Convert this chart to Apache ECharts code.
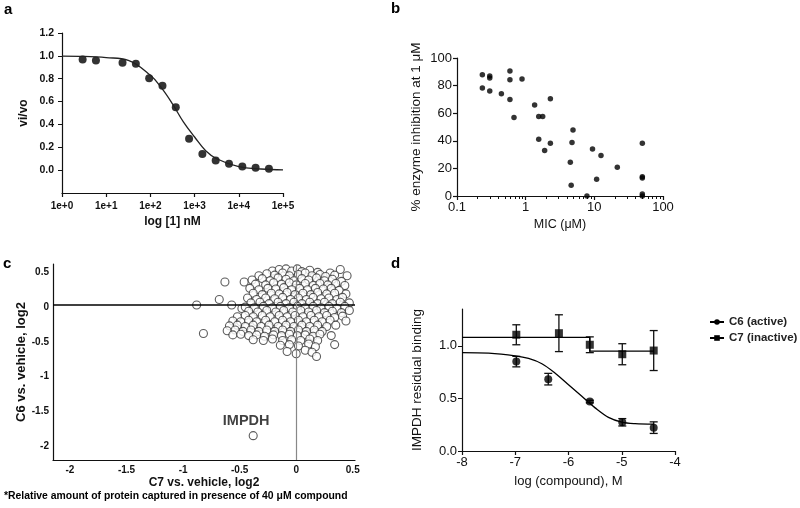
<!DOCTYPE html>
<html>
<head>
<meta charset="utf-8">
<script src="https://cdn.jsdelivr.net/npm/echarts@6/dist/echarts.min.js"></script>
<style>
  html, body { margin: 0; background: #fff; }
  #chart { width: 800px; height: 508px; }
</style>
</head>
<body>
<div id="chart"></div>
<script>
// ---------------- panel a : vi/vo vs log [1] ----------------
const aConc = [2.93, 5.86, 23.4, 46.9, 93.8, 187.5, 375, 750, 1500, 3000, 6000, 12000, 24000, 48000];
const aVivo = [0.968, 0.959, 0.939, 0.930, 0.803, 0.739, 0.551, 0.275, 0.142, 0.084, 0.055, 0.032, 0.020, 0.012];
const aFitConc = [1, 3.16, 10, 31.6, 100, 178, 316, 562, 1000, 1780, 3160, 10000, 31600, 100000];
const aFitVivo = [0.997, 0.995, 0.985, 0.96, 0.83, 0.72, 0.58, 0.42, 0.29, 0.17, 0.10, 0.03, 0.01, 0.003];

// ---------------- panel b : inhibition vs MIC ----------------
const bMic   = [0.234, 0.234, 0.30, 0.30, 0.30, 0.443, 0.59, 0.59, 0.59, 0.676, 0.885,
                1.35, 1.55, 1.77, 1.55, 1.89, 2.29, 2.29, 4.47, 4.73, 4.89, 4.6,
                7.8, 9.4, 10.8, 12.5, 21.6, 50, 50, 50, 50, 50];
const bInhib = [87.9, 78.2, 86.9, 85.5, 76.0, 74.1, 90.6, 84.3, 70.0, 56.9, 84.7,
                65.9, 57.6, 57.6, 41.2, 32.9, 70.5, 38.3, 24.5, 38.7, 47.9, 7.7,
                0, 34.1, 12.1, 29.3, 20.8, 38.3, 14.0, 13.0, 1.5, 0];
// minor tick positions of the MIC axis (2..9 within each decade, 0.1 to 100)
const bMinorTicks = [0.2, 0.3, 0.4, 0.5, 0.6, 0.7, 0.8, 0.9, 2, 3, 4, 5, 6, 7, 8, 9,
                     20, 30, 40, 50, 60, 70, 80, 90];

// ---------------- panel c : C6 vs C7 (log2) ----------------
const cOutliers = [[-0.88, 0.03], [-0.63, 0.36], [-0.46, 0.36], [-0.68, 0.11], [-0.57, 0.03],
                   [-0.82, -0.38], [-0.48, -0.02]];
const cCloud = [
  [-0.21,0.52],[-0.15,0.54],[-0.09,0.55],[-0.04,0.52],[0.01,0.55],[0.05,0.51],[0.12,0.53],[0.19,0.50],[0.30,0.49],[0.39,0.54],
  [-0.33,0.45],[-0.26,0.48],[-0.19,0.46],[-0.12,0.49],[-0.06,0.45],[0.02,0.47],[0.08,0.49],[0.14,0.45],[0.21,0.47],[0.26,0.44],[0.34,0.46],[0.45,0.45],
  [-0.39,0.39],[-0.30,0.41],[-0.23,0.38],[-0.16,0.42],[-0.09,0.40],[-0.02,0.38],[0.05,0.41],[0.11,0.39],[0.18,0.42],[0.25,0.38],[0.32,0.40],[0.40,0.37],
  [-0.36,0.33],[-0.27,0.32],[-0.20,0.35],[-0.13,0.33],[-0.06,0.35],[0.0,0.32],[0.08,0.34],[0.15,0.31],[0.21,0.34],[0.28,0.32],[0.35,0.34],[0.43,0.31],
  [-0.41,0.27],[-0.33,0.25],[-0.25,0.27],[-0.18,0.26],[-0.11,0.28],[-0.04,0.25],[0.03,0.27],[0.10,0.25],[0.17,0.27],[0.24,0.26],[0.31,0.27],[0.38,0.24],
  [-0.38,0.20],[-0.30,0.18],[-0.22,0.20],[-0.15,0.19],[-0.08,0.21],[-0.01,0.18],[0.06,0.20],[0.13,0.18],[0.19,0.21],[0.27,0.19],[0.34,0.20],[0.44,0.19],
  [-0.43,0.13],[-0.35,0.11],[-0.27,0.13],[-0.19,0.12],[-0.12,0.14],[-0.05,0.11],[0.02,0.13],[0.09,0.11],[0.15,0.14],[0.22,0.12],[0.29,0.13],[0.36,0.11],[0.41,0.14],
  [-0.40,0.06],[-0.32,0.07],[-0.24,0.05],[-0.16,0.07],[-0.09,0.05],[-0.02,0.07],[0.05,0.05],[0.12,0.07],[0.19,0.05],[0.25,0.07],[0.32,0.05],[0.39,0.07],[0.47,0.06],
  [-0.45,0.0],[-0.37,-0.01],[-0.29,0.01],[-0.21,-0.01],[-0.14,0.01],[-0.06,-0.01],[0.01,0.01],[0.08,-0.01],[0.15,0.01],[0.22,-0.01],[0.29,0.01],[0.36,-0.02],[0.43,0.01],
  [-0.42,-0.06],[-0.34,-0.07],[-0.26,-0.05],[-0.18,-0.07],[-0.11,-0.05],[-0.03,-0.07],[0.04,-0.05],[0.11,-0.07],[0.18,-0.05],[0.25,-0.08],[0.32,-0.06],[0.40,-0.08],[0.47,-0.05],
  [-0.52,-0.14],[-0.45,-0.12],[-0.38,-0.14],[-0.30,-0.12],[-0.23,-0.14],[-0.15,-0.12],[-0.08,-0.14],[-0.01,-0.12],[0.06,-0.14],[0.13,-0.12],[0.20,-0.14],[0.27,-0.12],[0.34,-0.15],[0.41,-0.13],
  [-0.56,-0.20],[-0.49,-0.21],[-0.42,-0.19],[-0.35,-0.21],[-0.27,-0.19],[-0.19,-0.21],[-0.12,-0.19],[-0.05,-0.21],[0.02,-0.19],[0.09,-0.21],[0.16,-0.19],[0.23,-0.21],[0.30,-0.19],[0.44,-0.20],
  [-0.59,-0.27],[-0.52,-0.26],[-0.45,-0.28],[-0.38,-0.26],[-0.31,-0.28],[-0.24,-0.26],[-0.16,-0.28],[-0.09,-0.26],[-0.02,-0.28],[0.05,-0.26],[0.12,-0.28],[0.19,-0.26],[0.27,-0.28],[0.35,-0.26],
  [-0.61,-0.34],[-0.54,-0.33],[-0.47,-0.35],[-0.40,-0.33],[-0.33,-0.35],[-0.26,-0.33],[-0.19,-0.35],[-0.12,-0.33],[-0.05,-0.35],[0.02,-0.33],[0.09,-0.35],[0.16,-0.33],[0.23,-0.35],[0.31,-0.41],
  [-0.56,-0.40],[-0.49,-0.39],[-0.42,-0.41],[-0.35,-0.40],[-0.28,-0.42],[-0.20,-0.40],[-0.13,-0.41],[-0.06,-0.39],[0.01,-0.41],[0.08,-0.40],[0.15,-0.42],[0.21,-0.39],
  [-0.38,-0.47],[-0.29,-0.48],[-0.21,-0.46],[-0.12,-0.48],[-0.04,-0.47],[0.04,-0.48],[0.12,-0.46],[0.19,-0.48],[0.34,-0.54],
  [-0.14,-0.55],[-0.06,-0.54],[0.02,-0.56],[0.11,-0.53],[0.17,-0.57],
  [-0.08,-0.64],[0.0,-0.67],[0.08,-0.62],[0.14,-0.65],[0.18,-0.71]
];
const cImpdh = [-0.38, -1.85];
const cBaselineY = 0.03;
const cTicks = [-2, -1.5, -1, -0.5, 0, 0.5];

// ---------------- panel d : residual binding ----------------
const dC6Log  = [-6.98, -6.38, -5.6, -4.99, -4.4];
const dC6Mean = [0.85, 0.683, 0.47, 0.273, 0.222];
const dC6Sem  = [0.05, 0.055, 0.012, 0.035, 0.055];
const dC7Log  = [-6.98, -6.18, -5.6, -4.99, -4.4];
const dC7Mean = [1.105, 1.12, 1.01, 0.92, 0.955];
const dC7Sem  = [0.095, 0.175, 0.075, 0.1, 0.19];
const dC6FitLog = [-8, -7.5, -7, -6.75, -6.5, -6.25, -6, -5.75, -5.5, -5.25, -5, -4.75, -4.4];
const dC6FitVal = [0.935, 0.93, 0.905, 0.88, 0.83, 0.74, 0.63, 0.52, 0.41, 0.32, 0.275, 0.26, 0.255];
const dC7FitLog = [-8, -5.6, -5.6, -4.4];
const dC7FitVal = [1.08, 1.08, 0.95, 0.95];

const FONT = "'Liberation Sans', Arial, sans-serif";
const INK = '#111';

const zip = (xs, ys) => xs.map((x, i) => [x, ys[i]]);

function errRender(params, api) {
  const x = api.value(0);
  const lo = api.coord([x, api.value(1)]);
  const hi = api.coord([x, api.value(2)]);
  const w = 4;
  const st = { stroke: INK, lineWidth: 1.3 };
  return {
    type: 'group',
    children: [
      { type: 'line', shape: { x1: lo[0], y1: lo[1], x2: hi[0], y2: hi[1] }, style: st },
      { type: 'line', shape: { x1: lo[0] - w, y1: lo[1], x2: lo[0] + w, y2: lo[1] }, style: st },
      { type: 'line', shape: { x1: hi[0] - w, y1: hi[1], x2: hi[0] + w, y2: hi[1] }, style: st }
    ]
  };
}
const errData = (xs, m, e) => xs.map((x, i) => [x, m[i] - e[i], m[i] + e[i]]);

function axisBase(extra) {
  return Object.assign({
    axisLine: { onZero: false, lineStyle: { color: INK, width: 1.2 } },
    axisTick: { show: true, length: 4, lineStyle: { color: INK, width: 1.2 } },
    splitLine: { show: false },
    axisLabel: { color: INK, fontFamily: FONT, fontSize: 11 },
    nameTextStyle: { color: INK, fontFamily: FONT, fontSize: 12 },
    nameLocation: 'middle'
  }, extra);
}
const bold = (o) => { o.axisLabel.fontWeight = 'bold'; o.nameTextStyle.fontWeight = 'bold'; return o; };
const nameStyle = (size, weight) => ({ color: INK, fontFamily: FONT, fontSize: size, fontWeight: weight || 'normal' });

const chart = echarts.init(document.getElementById('chart'), null, { renderer: 'canvas' });

const option = {
  animation: false,
  backgroundColor: '#fff',
  textStyle: { fontFamily: FONT },
  grid: [
    { left: 62, top: 33, width: 221, height: 160 },
    { left: 457, top: 58, width: 206, height: 138 },
    { left: 53, top: 264, width: 302, height: 196 },
    { left: 462, top: 309, width: 213, height: 142 }
  ],
  xAxis: [
    bold(axisBase({
      gridIndex: 0, type: 'log', logBase: 10, min: 1, max: 100000,
      name: 'log [1] nM', nameGap: 23,
      axisLabel: { color: INK, fontFamily: FONT, fontSize: 10,
        formatter: v => '1e+' + Math.round(Math.log10(v)) }
    })),
    axisBase({
      gridIndex: 1, type: 'log', logBase: 10, min: 0.1, max: 100,
      name: 'MIC (μM)', nameGap: 22, nameTextStyle: nameStyle(12.5),
      axisLabel: { color: INK, fontFamily: FONT, fontSize: 13, margin: 5,
        formatter: v => String(+v.toPrecision(3)) }
    }),
    bold(axisBase({
      gridIndex: 2, type: 'value', min: -2.15, max: 0.52,
      name: 'C7 vs. vehicle, log2', nameGap: 17,
      axisTick: { show: false },
      axisLabel: { color: INK, fontFamily: FONT, fontSize: 10, margin: 5, customValues: cTicks }
    })),
    axisBase({
      gridIndex: 3, type: 'value', min: -8, max: -4, interval: 1,
      name: 'log (compound), M', nameGap: 24, nameTextStyle: nameStyle(13),
      axisLabel: { color: INK, fontFamily: FONT, fontSize: 13, margin: 5 }
    }),
    // minor ticks of panel b's MIC axis, placed on a companion axis in decades (log10 units)
    {
      gridIndex: 1, type: 'value', min: -1, max: 2, position: 'bottom', offset: 0,
      axisLine: { show: false, onZero: false }, axisLabel: { show: false }, splitLine: { show: false },
      axisTick: { show: true, length: 3, lineStyle: { color: INK, width: 1 },
        customValues: bMinorTicks.map(v => Math.log10(v)) }
    }
  ],
  yAxis: [
    bold(axisBase({
      gridIndex: 0, type: 'value', min: -0.2, max: 1.2,
      name: 'vi/vo', nameGap: 32,
      axisTick: { show: true, length: 4, lineStyle: { color: INK }, customValues: [0, 0.2, 0.4, 0.6, 0.8, 1.0, 1.2] },
      axisLabel: { color: INK, fontFamily: FONT, fontSize: 10.5,
        customValues: [0, 0.2, 0.4, 0.6, 0.8, 1.0, 1.2], formatter: v => v.toFixed(1) }
    })),
    axisBase({
      gridIndex: 1, type: 'value', min: 0, max: 100, interval: 20,
      name: '% enzyme inhibition at 1 μM', nameGap: 34, nameTextStyle: nameStyle(13.5),
      axisLabel: { color: INK, fontFamily: FONT, fontSize: 13, margin: 5 }
    }),
    bold(axisBase({
      gridIndex: 2, type: 'value', min: -2.2, max: 0.62,
      name: 'C6 vs. vehicle, log2', nameGap: 24, nameTextStyle: nameStyle(13, 'bold'),
      axisTick: { show: false },
      axisLabel: { color: INK, fontFamily: FONT, fontSize: 10, margin: 4, customValues: cTicks }
    })),
    axisBase({
      gridIndex: 3, type: 'value', min: 0, max: 1.35,
      name: 'IMPDH residual binding', nameGap: 38, nameTextStyle: nameStyle(13.5),
      axisTick: { show: true, length: 4, lineStyle: { color: INK }, customValues: [0, 0.5, 1.0] },
      axisLabel: { color: INK, fontFamily: FONT, fontSize: 13, margin: 5,
        customValues: [0, 0.5, 1.0], formatter: v => v.toFixed(1) }
    })
  ],
  legend: {
    data: ['C6 (active)', 'C7 (inactive)'],
    orient: 'vertical', left: 704, top: 311,
    itemWidth: 14, itemHeight: 7, itemGap: 4,
    textStyle: { fontFamily: FONT, fontSize: 11.5, fontWeight: 'bold', color: '#222' }
  },
  series: [
    // a
    { type: 'line', xAxisIndex: 0, yAxisIndex: 0, data: zip(aFitConc, aFitVivo), smooth: 0.4,
      showSymbol: false, lineStyle: { color: '#222', width: 1.3 } },
    { type: 'scatter', xAxisIndex: 0, yAxisIndex: 0, data: zip(aConc, aVivo), symbolSize: 8,
      itemStyle: { color: '#000' } },
    // b
    { type: 'scatter', xAxisIndex: 1, yAxisIndex: 1, data: zip(bMic, bInhib), symbolSize: 5.5,
      itemStyle: { color: '#000' } },
    // c
    { type: 'scatter', xAxisIndex: 2, yAxisIndex: 2, data: cOutliers.concat(cCloud), symbolSize: 8,
      itemStyle: { color: '#fff', borderColor: '#333', borderWidth: 1.1 },
      markLine: { silent: true, symbol: 'none', label: { show: false }, animation: false,
        data: [
          { yAxis: cBaselineY, lineStyle: { color: '#000', width: 1.6, type: 'solid' } },
          { xAxis: 0, lineStyle: { color: '#888', width: 1.2, type: 'solid' } }
        ] } },
    { type: 'scatter', xAxisIndex: 2, yAxisIndex: 2, data: [cImpdh], symbolSize: 8,
      itemStyle: { color: '#fff', borderColor: '#333', borderWidth: 1.1 },
      label: { show: true, formatter: 'IMPDH', position: 'top', distance: 3, offset: [-7, 0],
        fontFamily: FONT, fontWeight: 'bold', fontSize: 14.5, color: INK } },
    // d
    { type: 'custom', xAxisIndex: 3, yAxisIndex: 3, renderItem: errRender,
      data: errData(dC7Log, dC7Mean, dC7Sem), encode: { x: 0, y: [1, 2] }, z: 3 },
    { type: 'custom', xAxisIndex: 3, yAxisIndex: 3, renderItem: errRender,
      data: errData(dC6Log, dC6Mean, dC6Sem), encode: { x: 0, y: [1, 2] }, z: 3 },
    { name: 'C6 (active)', type: 'line', xAxisIndex: 3, yAxisIndex: 3,
      data: zip(dC6FitLog, dC6FitVal), smooth: 0.35, symbol: 'circle', symbolSize: 7, showSymbol: false,
      itemStyle: { color: '#000' }, lineStyle: { color: '#000', width: 1.3 } },
    { name: 'C7 (inactive)', type: 'line', xAxisIndex: 3, yAxisIndex: 3,
      data: zip(dC7FitLog, dC7FitVal), symbol: 'rect', symbolSize: 7, showSymbol: false,
      itemStyle: { color: '#000' }, lineStyle: { color: '#000', width: 1.3 } },
    { type: 'scatter', xAxisIndex: 3, yAxisIndex: 3, data: zip(dC6Log, dC6Mean), symbol: 'circle',
      symbolSize: 8, itemStyle: { color: '#000' }, z: 4 },
    { type: 'scatter', xAxisIndex: 3, yAxisIndex: 3, data: zip(dC7Log, dC7Mean), symbol: 'rect',
      symbolSize: 8, itemStyle: { color: '#000' }, z: 4 }
  ],
  graphic: [
    { type: 'text', left: 4, top: 2, style: { text: 'a', font: 'bold 15px ' + FONT, fill: '#000' } },
    { type: 'text', left: 391, top: 1, style: { text: 'b', font: 'bold 15px ' + FONT, fill: '#000' } },
    { type: 'text', left: 3, top: 256, style: { text: 'c', font: 'bold 15px ' + FONT, fill: '#000' } },
    { type: 'text', left: 391, top: 256, style: { text: 'd', font: 'bold 15px ' + FONT, fill: '#000' } },
    { type: 'text', left: 4, top: 491,
      style: { text: '*Relative amount of protein captured in presence of 40 μM compound',
        font: 'bold 10.4px ' + FONT, fill: '#000' } }
  ]
};

chart.setOption(option);
</script>
</body>
</html>
